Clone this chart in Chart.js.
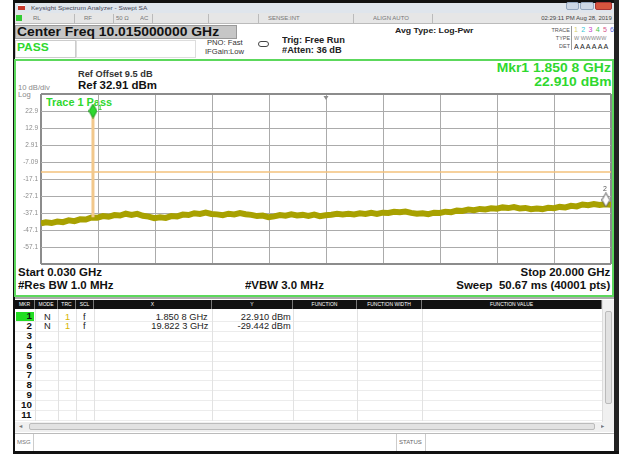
<!DOCTYPE html>
<html lang="en">
<head>
<meta charset="UTF-8">
<title>Keysight Spectrum Analyzer - Swept SA</title>
<script src="https://cdn.jsdelivr.net/npm/chart.js"></script>
<style>
  body { margin:0; width:619px; height:454px; overflow:hidden; background:#fff; position:relative;
         font-family:"Liberation Sans", Arial, sans-serif; color:#222; }
  .a { position:absolute; box-sizing:border-box; }
  .t { position:absolute; white-space:pre; line-height:1; transform:scaleX(1.09); transform-origin:left center; }
  .tr { transform-origin:right center; }
  .w { transform:scaleX(1.11); }
  .b { font-weight:bold; }
  .g { color:#2fd82f; }
  .hd { position:absolute; top:300px; height:9px; line-height:9px; font-size:5px; color:#fff; text-align:center; border-right:1px solid #777; box-sizing:border-box; }
  #spec { position:absolute; left:0; top:0; z-index:2; }
</style>
</head>
<body>
  <!-- window frame -->
  <div class="a" style="left:13px;top:0;width:606px;height:3px;background:#111"></div>
  <div class="a" style="left:13px;top:0;width:2px;height:454px;background:#111"></div>
  <div class="a" style="left:614px;top:0;width:5px;height:454px;background:#222"></div>
  <div class="a" style="left:13px;top:451px;width:606px;height:3px;background:#111"></div>

  <!-- title bar -->
  <div class="a" style="left:15px;top:3px;width:599px;height:10px;background:#dfe5ec"></div>
  <div class="a" style="left:18px;top:5px;width:7px;height:5px;background:#c8382c;border-top:1px solid #fff"></div>
  <div class="t" style="left:31px;top:5px;font-size:6px;color:#445">Keysight Spectrum Analyzer - Swept SA</div>
  <div class="a" style="left:566px;top:2px;width:13px;height:8px;background:#cdd8e6;border:1px solid #93a6bf;border-radius:2px"></div>
  <div class="a" style="left:580px;top:2px;width:14px;height:8px;background:#cdd8e6;border:1px solid #93a6bf;border-radius:2px"></div>
  <div class="a" style="left:595px;top:2px;width:17px;height:8px;background:#d6553e;border:1px solid #a33;border-radius:2px"></div>

  <!-- status row -->
  <div class="a" style="left:15px;top:13px;width:599px;height:11px;background:#e6e6e6;border-bottom:1px solid #bbb"></div>
  <div class="a" style="left:16px;top:15px;width:6px;height:6px;background:#3c3"></div>
  <div class="t" style="left:33px;top:16px;font-size:5.5px;color:#777">RL</div>
  <div class="t" style="left:84px;top:16px;font-size:5.5px;color:#777">RF</div>
  <div class="t" style="left:116px;top:16px;font-size:5.5px;color:#777">50 Ω</div>
  <div class="t" style="left:140px;top:16px;font-size:5.5px;color:#777">AC</div>
  <div class="t" style="left:268px;top:16px;font-size:5.5px;color:#777">SENSE:INT</div>
  <div class="t" style="left:373px;top:16px;font-size:5.5px;color:#777">ALIGN AUTO</div>
  <div class="t tr" style="right:7px;top:16px;font-size:5.5px;color:#444">02:29:11 PM Aug 28, 2019</div>
  <div class="a" style="left:74px;top:14px;width:1px;height:9px;background:#bbb"></div>
  <div class="a" style="left:113px;top:14px;width:1px;height:9px;background:#bbb"></div>
  <div class="a" style="left:152px;top:14px;width:1px;height:9px;background:#bbb"></div>
  <div class="a" style="left:208px;top:14px;width:1px;height:9px;background:#bbb"></div>
  <div class="a" style="left:258px;top:14px;width:1px;height:9px;background:#bbb"></div>
  <div class="a" style="left:353px;top:14px;width:1px;height:9px;background:#bbb"></div>
  <div class="a" style="left:432px;top:14px;width:1px;height:9px;background:#bbb"></div>

  <!-- center freq / settings -->
  <div class="a" style="left:15px;top:25px;width:222px;height:14px;background:#c6c6c6;border:1px solid #999"></div>
  <div class="t w b" style="left:17px;top:26px;font-size:12.5px;color:#111">Center Freq 10.015000000 GHz</div>
  <div class="a" style="left:15px;top:40px;width:61px;height:18px;border:1px solid #ccc"></div>
  <div class="a" style="left:76px;top:40px;width:120px;height:18px;border:1px solid #ddd"></div>
  <div class="t b g" style="left:17px;top:42px;font-size:11px">PASS</div>
  <div class="t" style="left:207px;top:39px;font-size:7px;color:#333">PNO: Fast</div>
  <div class="t" style="left:205px;top:48px;font-size:7px;color:#333">IFGain:Low</div>
  <div class="a" style="left:258px;top:41px;width:11px;height:6px;border:1.5px solid #444;border-radius:3px"></div>
  <div class="t b" style="left:282px;top:36px;font-size:8.5px;color:#222">Trig: Free Run</div>
  <div class="t b" style="left:282px;top:46px;font-size:8.5px;color:#222">#Atten: 36 dB</div>
  <div class="t b" style="left:395px;top:27px;font-size:8px;color:#222">Avg Type: Log-Pwr</div>
  <div class="t tr" style="right:49px;top:28px;font-size:5px;color:#555">TRACE</div>
  <div class="t tr" style="right:49px;top:36px;font-size:5px;color:#555">TYPE</div>
  <div class="t tr" style="right:49px;top:44px;font-size:5px;color:#555">DET</div>
  <div class="a" style="left:571px;top:26px;width:1px;height:24px;background:#999"></div>
  <div class="t" style="left:574px;top:27px;font-size:6.5px;letter-spacing:0.6px"><span style="color:#d8cf70">1</span> <span style="color:#39c6d6">2</span> <span style="color:#c548c5">3</span> <span style="color:#46c646">4</span> <span style="color:#d85a8a">5</span> <span style="color:#5a6ae0">6</span></div>
  <div class="t" style="left:574px;top:36px;font-size:5px;color:#888">W WWWWW</div>
  <div class="t" style="left:574px;top:44px;font-size:6.5px;color:#222">A A A A A A</div>

  <!-- green display frame -->
  <div class="a" style="left:14px;top:59px;width:600px;height:238px;border:2.5px solid #5cd85c;background:#fff"></div>
  <div class="t tr w b g" style="right:8px;top:62px;font-size:12.5px">Mkr1 1.850 8 GHz</div>
  <div class="t tr w b g" style="right:8px;top:76px;font-size:12.5px">22.910 dBm</div>
  <div class="t b" style="left:78px;top:70px;font-size:8.5px;color:#333">Ref Offset 9.5 dB</div>
  <div class="t b" style="left:78px;top:80px;font-size:10.5px;color:#111">Ref 32.91 dBm</div>
  <div class="t" style="left:18px;top:84px;font-size:7px;color:#8a8a8a">10 dB/div</div>
  <div class="t" style="left:18px;top:91px;font-size:7px;color:#8a8a8a">Log</div>
  <div class="t b g" style="left:46px;top:98px;font-size:10px">Trace 1 Pass</div>
  <div class="t b" style="left:18px;top:267px;font-size:10.5px;color:#111">Start 0.030 GHz</div>
  <div class="t b" style="left:18px;top:280px;font-size:10.5px;color:#111">#Res BW 1.0 MHz</div>
  <div class="t b" style="left:245px;top:280px;font-size:10.5px;color:#111">#VBW 3.0 MHz</div>
  <div class="t tr b" style="right:9px;top:267px;font-size:10.5px;color:#111">Stop 20.000 GHz</div>
  <div class="t tr b" style="right:9px;top:280px;font-size:10.5px;color:#111">Sweep  50.67 ms (40001 pts)</div>
  <div class="a" style="left:15px;top:297px;width:599px;height:2px;background:#aaa"></div>

  <!-- marker table -->
  <div id="table"></div>

  <!-- message bar -->
  <div class="a" style="left:15px;top:433px;width:599px;height:18px;border-top:1px solid #bbb;background:#fff"></div>
  <div class="t" style="left:17px;top:440px;font-size:5.5px;color:#777">MSG</div>
  <div class="a" style="left:33px;top:434px;width:1px;height:17px;background:#ccc"></div>
  <div class="t" style="left:399px;top:440px;font-size:5.5px;color:#666">STATUS</div>
  <div class="a" style="left:396px;top:434px;width:1px;height:17px;background:#ccc"></div>
  <div class="a" style="left:425px;top:434px;width:1px;height:17px;background:#ccc"></div>

  <canvas id="spec" width="619" height="454"></canvas>

  <script>
    // sweep settings
    const startGHz = 0.030;
    const stopGHz = 20.000;
    const centerGHz = 10.015;
    const refLevelDbm = 32.91;
    const bottomDbm = -67.09;

    // graticule lines (10 divisions each way)
    const xGridGHz = [0.030, 2.027, 4.024, 6.021, 8.018, 10.015, 12.012, 14.009, 16.006, 18.003, 20.000];
    const yGridDbm = [32.91, 22.91, 12.91, 2.91, -7.09, -17.09, -27.09, -37.09, -47.09, -57.09, -67.09];

    // trace 1 (noise floor), every 0.2 GHz
    const traceGHz = [0.03, 0.2, 0.4, 0.6, 0.8, 1.0, 1.2, 1.4, 1.6, 1.8, 2.0, 2.2, 2.4, 2.6, 2.8, 3.0, 3.2, 3.4,
      3.6, 3.8, 4.0, 4.2, 4.4, 4.6, 4.8, 5.0, 5.2, 5.4, 5.6, 5.8, 6.0, 6.2, 6.4, 6.6, 6.8, 7.0, 7.2, 7.4, 7.6,
      7.8, 8.0, 8.2, 8.4, 8.6, 8.8, 9.0, 9.2, 9.4, 9.6, 9.8, 10.0, 10.2, 10.4, 10.6, 10.8, 11.0, 11.2, 11.4,
      11.6, 11.8, 12.0, 12.2, 12.4, 12.6, 12.8, 13.0, 13.2, 13.4, 13.6, 13.8, 14.0, 14.2, 14.4, 14.6, 14.8,
      15.0, 15.2, 15.4, 15.6, 15.8, 16.0, 16.2, 16.4, 16.6, 16.8, 17.0, 17.2, 17.4, 17.6, 17.8, 18.0, 18.2,
      18.4, 18.6, 18.8, 19.0, 19.2, 19.4, 19.6, 19.8, 20.0];
    const traceDbm = [-43.2, -42.6, -43.0, -42.1, -42.5, -41.4, -41.9, -40.8, -40.9, -39.7, -39.9, -38.9, -39.3,
      -38.3, -38.6, -37.5, -38.2, -37.6, -38.7, -39.2, -40.1, -39.6, -40.0, -38.9, -39.1, -38.0, -38.3, -37.2,
      -37.6, -36.9, -37.7, -37.9, -38.4, -37.5, -37.9, -37.1, -37.8, -38.2, -38.9, -38.6, -39.6, -39.1, -38.3,
      -38.7, -37.9, -38.5, -38.2, -38.8, -38.0, -39.0, -38.4, -38.1, -37.6, -38.0, -37.5, -37.9, -37.3, -37.7,
      -37.0, -37.6, -36.9, -37.1, -36.4, -36.7, -36.2, -37.0, -37.5, -37.2, -37.8, -36.9, -37.1, -36.3, -36.6,
      -35.7, -35.9, -35.1, -35.4, -34.7, -35.0, -34.3, -34.6, -33.8, -34.2, -33.6, -34.4, -34.1, -34.9, -34.5,
      -34.8, -34.0, -34.3, -33.5, -33.8, -32.9, -33.2, -32.1, -32.5, -31.8, -32.4, -31.9, -32.3];

    // carrier spike
    const spikeGHz = [1.8508, 1.8508];
    const spikeDbm = [-39.6, 22.91];

    // display / limit line
    const limitDbm = -13;

    // markers
    const markerNames = ['1', '2'];
    const markerGHz = [1.8508, 19.8223];
    const markerDbm = [22.910, -29.442];

    const pts = (xs, ys) => xs.map((v, i) => ({ x: v, y: ys[i] }));

    function diamond(fill, stroke) {
      const c = document.createElement('canvas');
      c.width = 9; c.height = 15;
      const g = c.getContext('2d');
      g.beginPath();
      g.moveTo(4.5, 0.5); g.lineTo(8.5, 7.5); g.lineTo(4.5, 14.5); g.lineTo(0.5, 7.5);
      g.closePath();
      g.fillStyle = fill; g.fill();
      g.strokeStyle = stroke; g.lineWidth = 1; g.stroke();
      return c;
    }

    // marker table
    function fmtGHz(v) {
      const s = v.toFixed(4);
      return s.slice(0, -1) + ' ' + s.slice(-1) + ' GHz';
    }
    const cols = [15, 35, 58, 76, 94, 212, 293, 357, 422, 602];
    const heads = ['MKR', 'MODE', 'TRC', 'SCL', 'X', 'Y', 'FUNCTION', 'FUNCTION WIDTH', 'FUNCTION VALUE'];
    let html = '<div class="a" style="left:15px;top:299px;width:599px;height:134px;background:#fff"></div>';
    html += '<div class="a" style="left:15px;top:300px;width:587px;height:9px;background:#111"></div>';
    heads.forEach((h, i) => {
      html += `<div class="hd" style="left:${cols[i]}px;width:${cols[i + 1] - cols[i]}px">${h}</div>`;
    });
    for (let r = 0; r < 11; r++) {
      const top = 311.5 + r * 9.9;
      html += `<div class="a" style="left:15px;top:${top + 9.4}px;width:587px;height:1px;background:#ececec"></div>`;
      if (r === 0) html += `<div class="a" style="left:16px;top:${top}px;width:18px;height:9.5px;background:#22dd22"></div>`;
      html += `<div class="t tr b" style="right:${619 - 32}px;top:${top + 0.5}px;font-size:9px;color:#111">${r + 1}</div>`;
      if (r < markerNames.length) {
        html += `<div class="t" style="left:44px;top:${top + 1}px;font-size:8.5px">N</div>`;
        html += `<div class="t" style="left:65px;top:${top + 1}px;font-size:8.5px;color:#d6b400">1</div>`;
        html += `<div class="t" style="left:83px;top:${top + 1}px;font-size:8.5px">f</div>`;
        html += `<div class="t tr" style="right:${619 - 208}px;top:${top + 1}px;font-size:8.5px">${fmtGHz(markerGHz[r])}</div>`;
        html += `<div class="t tr" style="right:${619 - 291}px;top:${top + 1}px;font-size:8.5px">${markerDbm[r].toFixed(3)} dBm</div>`;
      }
    }
    cols.slice(1, -1).forEach(x => {
      html += `<div class="a" style="left:${x}px;top:309px;width:1px;height:112px;background:#e2e2e2"></div>`;
    });
    // scroll bars
    html += '<div class="a" style="left:602px;top:300px;width:12px;height:122px;background:#f0f0f0;border-left:1px solid #ddd"></div>';
    html += '<div class="a" style="left:605px;top:311px;width:7px;height:93px;background:#e2e2e2;border:1px solid #bbb;border-radius:2px"></div>';
    html += '<div class="a" style="left:15px;top:422px;width:599px;height:10px;background:#f0f0f0"></div>';
    html += '<div class="a" style="left:29px;top:423px;width:566px;height:7px;background:#e2e2e2;border:1px solid #bbb;border-radius:2px"></div>';
    html += '<div class="t" style="left:19px;top:423px;font-size:6px;color:#777">◂</div>';
    html += '<div class="t" style="left:601px;top:423px;font-size:6px;color:#777">▸</div>';
    document.getElementById('table').innerHTML = html;

    const gridColor = ctx => (ctx.index === 0 || ctx.index === 10) ? '#8c8c8c' : '#ababab';
    const gridWidth = ctx => (ctx.index === 0 || ctx.index === 10) ? 2 : 1;

    const markerLabels = {
      id: 'markerLabels',
      afterDatasetsDraw(chart) {
        const { ctx, scales: { x, y } } = chart;
        ctx.save();
        ctx.font = 'bold 7px "Liberation Sans", Arial';
        ctx.fillStyle = '#2fd82f';
        ctx.fillText(markerNames[0], x.getPixelForValue(markerGHz[0]) + 5, y.getPixelForValue(markerDbm[0]) - 1);
        ctx.fillStyle = '#555';
        ctx.font = '7px "Liberation Sans", Arial';
        ctx.fillText(markerNames[1], x.getPixelForValue(markerGHz[1]) - 3, y.getPixelForValue(markerDbm[1]) - 9);
        // center frequency pointer
        const cx = x.getPixelForValue(centerGHz);
        ctx.fillStyle = '#8c8c8c';
        ctx.beginPath();
        ctx.moveTo(cx - 2.5, y.top + 2); ctx.lineTo(cx + 2.5, y.top + 2); ctx.lineTo(cx, y.top + 6);
        ctx.closePath(); ctx.fill();
        ctx.restore();
      }
    };

    new Chart(document.getElementById('spec').getContext('2d'), {
      type: 'line',
      data: {
        datasets: [
          {
            label: 'Markers',
            data: pts(markerGHz, markerDbm),
            showLine: false,
            pointRadius: 6,
            pointStyle: [diamond('#2fd82f', '#169416'), diamond('#ffffff', '#555555')],
            order: 0
          },
          {
            label: 'Spike',
            data: pts(spikeGHz, spikeDbm),
            borderColor: '#f2c88c',
            borderWidth: 3,
            pointRadius: 0,
            order: 1
          },
          {
            label: 'Trace 1',
            data: pts(traceGHz, traceDbm),
            borderColor: '#a8a100',
            borderWidth: 6,
            borderJoinStyle: 'miter',
            pointRadius: 0,
            tension: 0,
            order: 2
          },
          {
            label: 'Display Line',
            data: pts([startGHz, stopGHz], [limitDbm, limitDbm]),
            borderColor: '#f3c27c',
            borderWidth: 1.5,
            pointRadius: 0,
            order: 3
          }
        ]
      },
      options: {
        responsive: false,
        animation: false,
        devicePixelRatio: 1,
        layout: { padding: { left: 16, top: 94, right: 8, bottom: 190 } },
        plugins: { legend: { display: false }, tooltip: { enabled: false } },
        scales: {
          x: {
            type: 'linear',
            min: startGHz,
            max: stopGHz,
            afterBuildTicks: s => { s.ticks = xGridGHz.map(v => ({ value: v })); },
            afterFit: s => { s.height = 0; },
            ticks: { display: false },
            grid: { color: gridColor, lineWidth: gridWidth, drawTicks: false },
            border: { display: false }
          },
          y: {
            min: bottomDbm,
            max: refLevelDbm,
            afterBuildTicks: s => { s.ticks = yGridDbm.map(v => ({ value: v })); },
            afterFit: s => { s.width = 25; },
            ticks: {
              padding: 3,
              color: '#8c8c8c',
              font: { size: 6.5, family: '"Liberation Sans", Arial' },
              callback: (v, i) => (i === 0 || i === yGridDbm.length - 1) ? '' : String(Number(v.toPrecision(3)))
            },
            grid: { color: gridColor, lineWidth: gridWidth, drawTicks: false },
            border: { display: false }
          }
        }
      },
      plugins: [markerLabels]
    });
  </script>
</body>
</html>
